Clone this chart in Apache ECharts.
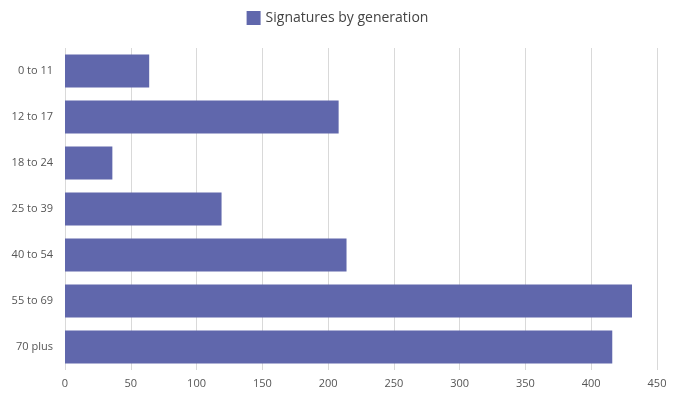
<!DOCTYPE html>
<html>
<head>
<meta charset="utf-8">
<script src="https://cdn.jsdelivr.net/npm/echarts@6/dist/echarts.min.js"></script>
<style>html,body{margin:0;padding:0;background:#fff}#main{width:675px;height:411px}</style>
</head>
<body>
<div id="main"></div>
<script>
var categories = ['0 to 11','12 to 17','18 to 24','25 to 39','40 to 54','55 to 69','70 plus'];
var signatures = [64, 208, 36, 119, 214, 431, 416];

var myChart = echarts.init(document.getElementById('main'));
var option = {
    animation: false,
    textStyle: { fontFamily: 'Open Sans' },
    legend: {
        data: ['Signatures by generation'],
        top: 6,
        itemWidth: 14, itemHeight: 14, icon: 'rect',
        textStyle: { fontSize: 14, color: '#444' }
    },
    grid: { left: 65, right: 18, top: 48, bottom: 41 },
    xAxis: {
        type: 'value', min: 0, max: 450, interval: 50,
        axisLine: { show: false }, axisTick: { show: false },
        splitLine: { lineStyle: { color: '#d9d9d9' } },
        axisLabel: { color: '#555', fontSize: 11 }
    },
    yAxis: {
        type: 'category', data: categories, inverse: true,
        axisLine: { show: false }, axisTick: { show: false },
        axisLabel: { color: '#555', fontSize: 11, margin: 12 }
    },
    series: [{
        name: 'Signatures by generation', type: 'bar',
        data: signatures, barCategoryGap: '28%',
        itemStyle: { color: '#6067ac' }
    }]
};
myChart.setOption(option);
</script>
</body>
</html>
